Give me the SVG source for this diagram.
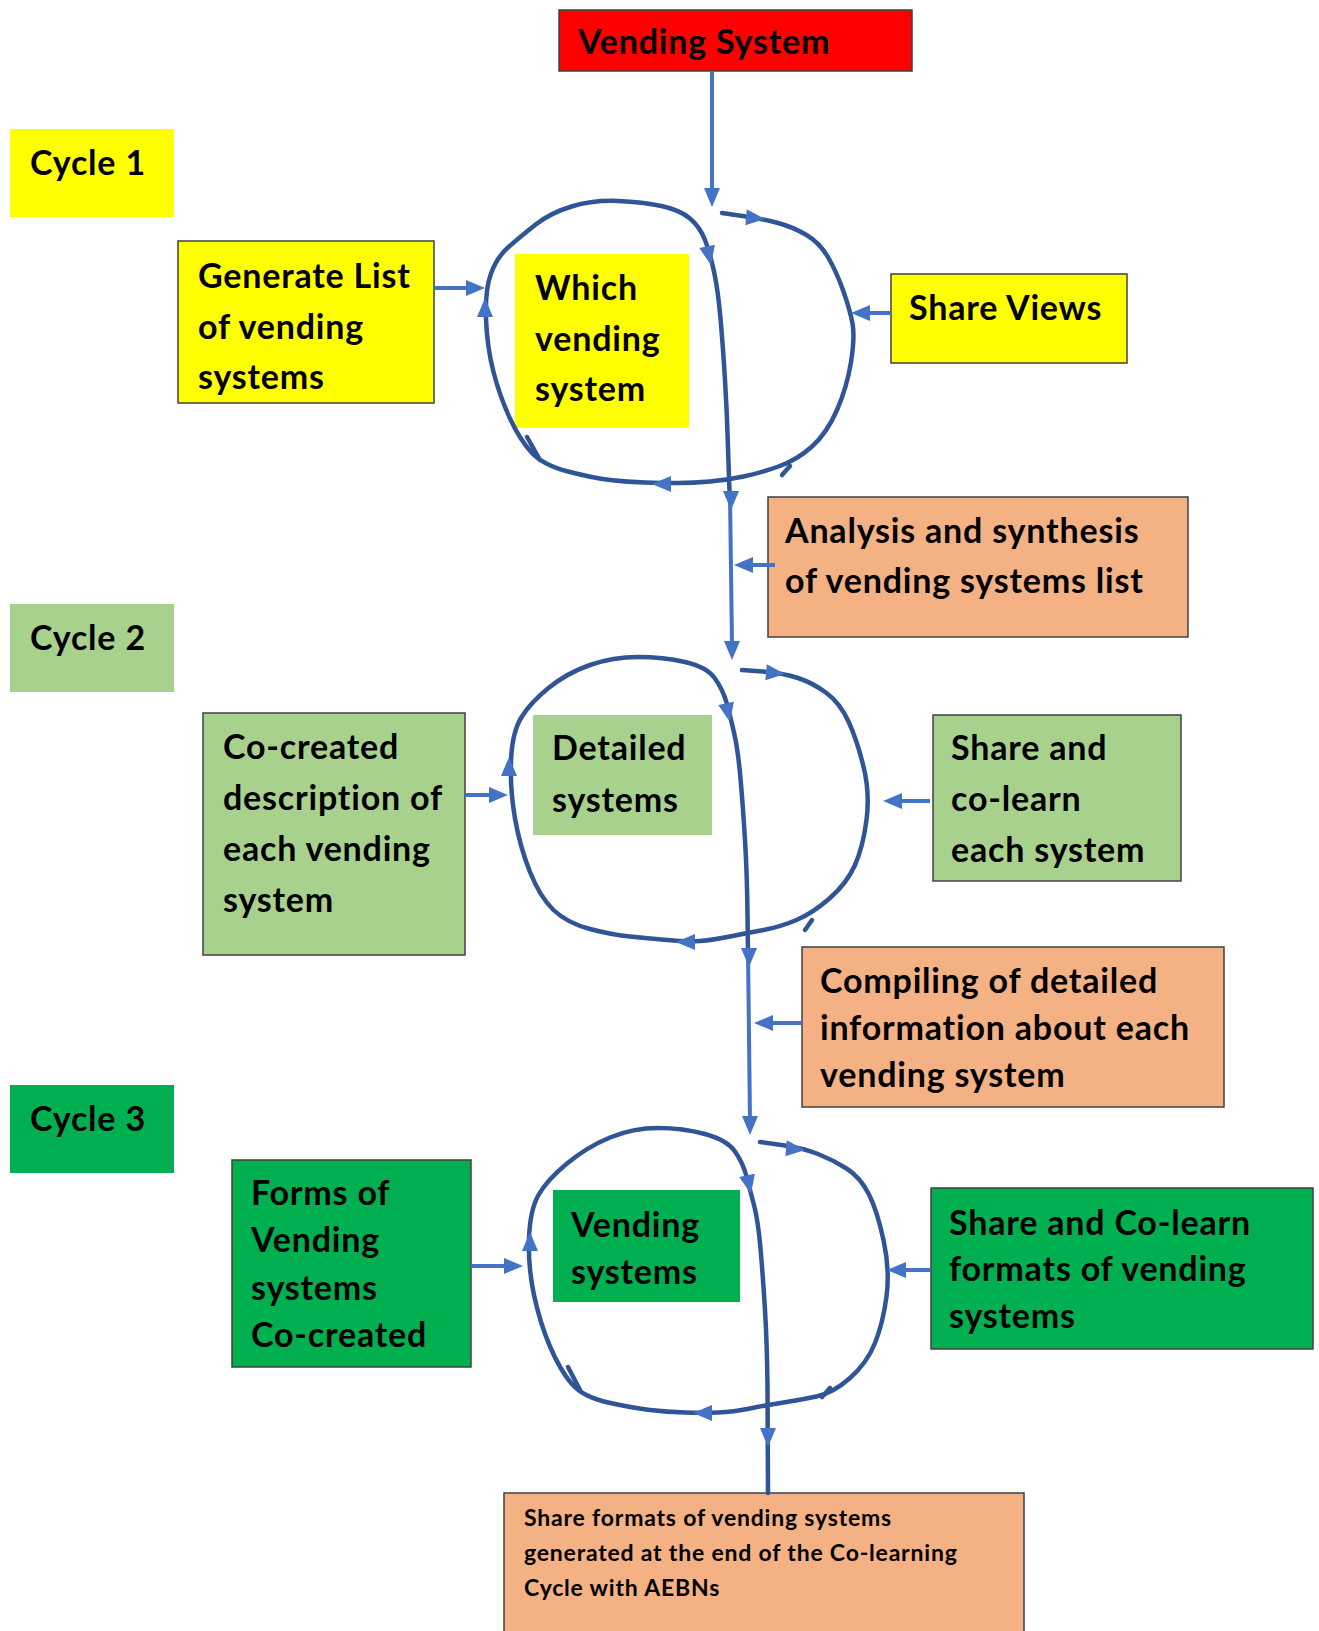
<svg xmlns="http://www.w3.org/2000/svg" width="1319" height="1631" viewBox="0 0 1319 1631">
<style>
.t{font-family:Lato,"Liberation Sans",sans-serif;font-weight:700;font-size:34px;letter-spacing:0.8px;fill:#000}
.s{font-size:23px;letter-spacing:0.8px}
.bx{stroke:#404040;stroke-width:1.5}
.loop{fill:none;stroke:#2F5597;stroke-width:4.5;stroke-linejoin:round;stroke-linecap:round}
.ln{fill:none;stroke:#4472C4;stroke-width:4}
.ah{fill:#4472C4}
</style>
<defs>
<path id="ah" d="M0,0 L-19,-8 L-19,8 Z"/>
</defs>
<rect width="1319" height="1631" fill="#fff"/>
<g id="vending-system"><rect x="559" y="10" width="353" height="61" fill="#FF0000" class="bx"/><text x="578" y="54" class="t">Vending System</text></g>
<g id="cycle1"><rect x="10" y="129" width="164" height="88" fill="#FFFF00"/><text x="30" y="175" class="t">Cycle 1</text></g>
<g id="generate-list"><rect x="178" y="241" width="256" height="162" fill="#FFFF00" class="bx"/><text class="t"><tspan x="198" y="288">Generate List</tspan><tspan x="198" y="339">of vending</tspan><tspan x="198" y="389">systems</tspan></text></g>
<g id="which-vending"><rect x="515" y="254" width="174" height="174" fill="#FFFF00"/><text class="t"><tspan x="535" y="300">Which</tspan><tspan x="535" y="351">vending</tspan><tspan x="535" y="401">system</tspan></text></g>
<g id="share-views"><rect x="891" y="274" width="236" height="89" fill="#FFFF00" class="bx"/><text x="909" y="320" class="t">Share Views</text></g>
<g id="analysis"><rect x="768" y="497" width="420" height="140" fill="#F4B183" class="bx"/><text class="t"><tspan x="785" y="543">Analysis and synthesis</tspan><tspan x="785" y="593">of vending systems list</tspan></text></g>
<g id="cycle2"><rect x="10" y="604" width="164" height="88" fill="#A9D18E"/><text x="30" y="650" class="t">Cycle 2</text></g>
<g id="co-created"><rect x="203" y="713" width="262" height="242" fill="#A9D18E" class="bx"/><text class="t"><tspan x="223" y="759">Co-created</tspan><tspan x="223" y="810">description of</tspan><tspan x="223" y="861">each vending</tspan><tspan x="223" y="912">system</tspan></text></g>
<g id="detailed-systems"><rect x="533" y="715" width="179" height="120" fill="#A9D18E"/><text class="t"><tspan x="552" y="760">Detailed</tspan><tspan x="552" y="812">systems</tspan></text></g>
<g id="share-colearn"><rect x="933" y="715" width="248" height="166" fill="#A9D18E" class="bx"/><text class="t"><tspan x="951" y="760">Share and</tspan><tspan x="951" y="811">co-learn</tspan><tspan x="951" y="862">each system</tspan></text></g>
<g id="compiling"><rect x="802" y="947" width="422" height="160" fill="#F4B183" class="bx"/><text class="t"><tspan x="820" y="993">Compiling of detailed</tspan><tspan x="820" y="1040">information about each</tspan><tspan x="820" y="1087">vending system</tspan></text></g>
<g id="cycle3"><rect x="10" y="1085" width="164" height="88" fill="#00B050"/><text x="30" y="1131" class="t">Cycle 3</text></g>
<g id="forms"><rect x="232" y="1160" width="239" height="207" fill="#00B050" class="bx"/><text class="t"><tspan x="251" y="1205">Forms of</tspan><tspan x="251" y="1252">Vending</tspan><tspan x="251" y="1300">systems</tspan><tspan x="251" y="1347">Co-created</tspan></text></g>
<g id="vending-systems"><rect x="553" y="1190" width="187" height="112" fill="#00B050"/><text class="t"><tspan x="571" y="1237">Vending</tspan><tspan x="571" y="1284">systems</tspan></text></g>
<g id="share-formats"><rect x="931" y="1188" width="382" height="161" fill="#00B050" class="bx"/><text class="t"><tspan x="949" y="1235">Share and Co-learn</tspan><tspan x="949" y="1281">formats of vending</tspan><tspan x="949" y="1328">systems</tspan></text></g>
<g id="share-final"><rect x="504" y="1493" width="520" height="145" fill="#F4B183" class="bx"/><text class="t s"><tspan x="524" y="1526">Share formats of vending systems</tspan><tspan x="524" y="1561">generated at the end of the Co-learning</tspan><tspan x="524" y="1596">Cycle with AEBNs</tspan></text></g>
<g id="connectors">
<path class="ln" d="M712,71 L712,195"/>
<path class="loop" d="M722,213 L742.5,216 Q763,219 778,223 Q793,227 806.5,235 Q820,243 828.5,258 Q837,273 843.5,291.5 Q850,310 852.5,323.5 Q855,337 851,362 Q847,387 837,410 Q827,433 812,446.5 Q797,460 778.5,466.5 Q760,473 743.5,476.5 Q727,480 710,481.5 Q693,483 678,483 Q663,483 645,482.5 Q627,482 610,480 Q593,478 568,471.5 Q543,465 531.5,452.5 Q520,440 510,418.5 Q500,397 493.5,372 Q487,347 486,318.5 Q485,290 491,273.5 Q497,257 508.5,247 Q520,237 535,225 Q550,213 571.5,206.5 Q593,200 618,201 Q643,202 661.5,206 Q680,210 690,218.5 Q700,227 705,240 Q710,253 714,271.5 Q718,290 720.5,318.5 Q723,347 725,380 Q727,413 728,446.5 Q729,480 729.5,490 L730,500"/>
<path class="loop" d="M527,437 L540,460"/>
<path class="loop" d="M782,475 L790,466"/>
<path class="ln" d="M730,495 L732,645"/>
<path class="ln" d="M434,288 L470,288"/>
<path class="ln" d="M891,313 L866,313"/>
<path class="ln" d="M775,565 L750,565"/>
<path class="loop" d="M742,670 L762.5,671.5 Q783,673 798,678 Q813,683 826.5,693 Q840,703 848.5,721.5 Q857,740 863.5,766.5 Q870,793 866.5,820 Q863,847 855,865 Q847,883 830,898 Q813,913 796.5,920 Q780,927 763.5,930 Q747,933 730,936.5 Q713,940 700,941 Q687,942 667,940 Q647,938 630,936.5 Q613,935 590,929 Q567,923 553.5,910 Q540,897 530,872 Q520,847 515,818.5 Q510,790 511,761.5 Q512,733 521,718 Q530,703 548.5,688 Q567,673 590,665 Q613,657 638,657 Q663,657 685,662 Q707,667 715,678.5 Q723,690 726.5,702.5 Q730,715 734,732.5 Q738,750 740.5,778.5 Q743,807 745,840 Q747,873 747.5,914 L748,955"/>
<path class="loop" d="M805,930 L812,920"/>
<path class="ln" d="M748,950 L750,1122"/>
<path class="ln" d="M465,795 L492,795"/>
<path class="ln" d="M930,801 L898,801"/>
<path class="ln" d="M802,1023 L769,1023"/>
<path class="loop" d="M760,1142 L781.5,1145 Q803,1148 818,1154 Q833,1160 846.5,1168.5 Q860,1177 868.5,1193.5 Q877,1210 883.5,1240 Q890,1270 886.5,1296.5 Q883,1323 875,1343 Q867,1363 850,1378 Q833,1393 816.5,1396.5 Q800,1400 783.5,1402.5 Q767,1405 750,1408.5 Q733,1412 718,1412.5 Q703,1413 685,1412.5 Q667,1412 650,1410 Q633,1408 608,1402.5 Q583,1397 571.5,1383.5 Q560,1370 550,1346.5 Q540,1323 534,1295 Q528,1267 529,1238.5 Q530,1210 538.5,1195 Q547,1180 567,1163.5 Q587,1147 610,1137.5 Q633,1128 658,1128 Q683,1128 705,1134 Q727,1140 735,1151.5 Q743,1163 746.5,1176.5 Q750,1190 754,1205 Q758,1220 760.5,1248.5 Q763,1277 765,1310 Q767,1343 767.5,1386.5 L768,1493"/>
<path class="loop" d="M568,1367 L580,1390"/>
<path class="loop" d="M822,1397 L830,1388"/>
<path class="ln" d="M471,1266 L507,1266"/>
<path class="ln" d="M931,1270 L902,1270"/>
<g class="ah">
<use href="#ah" transform="translate(712,207) rotate(90)"/>
<use href="#ah" transform="translate(765,219) rotate(5)"/>
<use href="#ah" transform="translate(711,265) rotate(78)"/>
<use href="#ah" transform="translate(652,484) rotate(180)"/>
<use href="#ah" transform="translate(485,298) rotate(-90)"/>
<use href="#ah" transform="translate(485,288)"/>
<use href="#ah" transform="translate(851,313) rotate(180)"/>
<use href="#ah" transform="translate(731,510) rotate(90)"/>
<use href="#ah" transform="translate(732,660) rotate(90)"/>
<use href="#ah" transform="translate(734,565) rotate(180)"/>
<use href="#ah" transform="translate(785,674) rotate(5)"/>
<use href="#ah" transform="translate(730,722) rotate(78)"/>
<use href="#ah" transform="translate(676,942) rotate(180)"/>
<use href="#ah" transform="translate(509,757) rotate(-90)"/>
<use href="#ah" transform="translate(508,795)"/>
<use href="#ah" transform="translate(883,801) rotate(180)"/>
<use href="#ah" transform="translate(749,967) rotate(90)"/>
<use href="#ah" transform="translate(754,1023) rotate(180)"/>
<use href="#ah" transform="translate(750,1135) rotate(90)"/>
<use href="#ah" transform="translate(805,1150) rotate(5)"/>
<use href="#ah" transform="translate(751,1194) rotate(78)"/>
<use href="#ah" transform="translate(693,1413) rotate(180)"/>
<use href="#ah" transform="translate(530,1232) rotate(-90)"/>
<use href="#ah" transform="translate(523,1266)"/>
<use href="#ah" transform="translate(887,1270) rotate(180)"/>
<use href="#ah" transform="translate(768,1447) rotate(90)"/>
</g>
</g>
</svg>
